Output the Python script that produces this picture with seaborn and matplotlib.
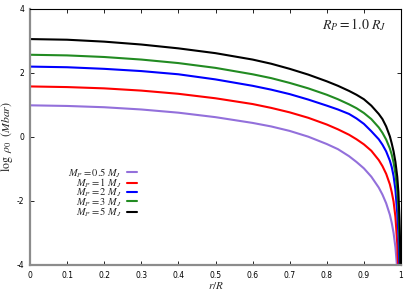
import numpy as np
import pandas as pd
import seaborn as sns
import matplotlib
matplotlib.use("Agg")
import matplotlib.pyplot as plt

# r/R sample points
r_grid = [0.0, 0.1, 0.2, 0.3, 0.4, 0.5, 0.6, 0.65, 0.7, 0.75, 0.8, 0.83,
          0.86, 0.88, 0.9, 0.92, 0.94, 0.95, 0.96, 0.97, 0.975, 0.98,
          0.985, 0.99, 0.993, 0.996, 0.998, 1.0]

# log rho_0 for each planet mass (values below -4 are off the plot)
rho_05 = [0.99, 0.97, 0.93, 0.86, 0.76, 0.62, 0.44, 0.33, 0.19, 0.01, -0.22,
          -0.38, -0.60, -0.78, -0.98, -1.24, -1.58, -1.80, -2.07, -2.43,
          -2.68, -3.00, -3.45, -4.15, -4.80, -5.40, -5.70, -6.0]
rho_1 = [1.58, 1.56, 1.52, 1.45, 1.35, 1.21, 1.03, 0.91, 0.77, 0.60, 0.39,
         0.24, 0.07, -0.07, -0.23, -0.43, -0.72, -0.91, -1.15, -1.48,
         -1.72, -2.02, -2.50, -3.35, -4.20, -4.90, -5.50, -6.0]
rho_2 = [2.20, 2.18, 2.13, 2.06, 1.96, 1.80, 1.60, 1.48, 1.34, 1.17, 0.98,
         0.86, 0.72, 0.58, 0.41, 0.18, -0.07, -0.24, -0.45, -0.74,
         -0.94, -1.22, -1.65, -2.40, -3.05, -4.10, -4.90, -6.0]
rho_3 = [2.57, 2.55, 2.50, 2.42, 2.31, 2.16, 1.96, 1.84, 1.69, 1.52, 1.32,
         1.18, 1.02, 0.90, 0.75, 0.56, 0.30, 0.13, -0.08, -0.36,
         -0.55, -0.80, -1.15, -1.70, -2.25, -3.20, -4.20, -6.0]
rho_5 = [3.06, 3.04, 2.98, 2.89, 2.77, 2.62, 2.42, 2.29, 2.13, 1.95, 1.74,
         1.60, 1.44, 1.32, 1.18, 0.98, 0.72, 0.56, 0.33, 0.02,
         -0.20, -0.45, -0.78, -1.25, -1.72, -2.60, -3.50, -6.0]

labels = [r"$M_P = 0.5\ M_J$", r"$M_P = 1\ M_J$", r"$M_P = 2\ M_J$",
          r"$M_P = 3\ M_J$", r"$M_P = 5\ M_J$"]
colors = ["#9370db", "#ff0000", "#0000ff", "#228b22", "#000000"]
series = [rho_05, rho_1, rho_2, rho_3, rho_5]

sns.set_style("ticks")
plt.rcParams["mathtext.fontset"] = "stix"
plt.rcParams["font.family"] = ["DejaVu Sans"]

fig = plt.figure(figsize=(4.15, 2.91), dpi=100)
ax = fig.add_axes([30 / 415, 26 / 291, 371 / 415, 256 / 291])

for vals, lab, col in zip(series, labels, colors):
    df = pd.DataFrame({"r": r_grid, "rho": vals})
    sns.lineplot(data=df, x="r", y="rho", color=col, lw=1.5, label=lab,
                 ax=ax, sort=False)

ax.set_xlim(0, 1)
ax.set_ylim(-4, 4)
ax.set_xticks(np.arange(0, 1.01, 0.1))
ax.set_xticklabels(["0", "0.1", "0.2", "0.3", "0.4", "0.5", "0.6", "0.7",
                    "0.8", "0.9", "1"])
ax.set_yticks([-4, -2, 0, 2, 4])
ax.set_yticklabels(["-4", "-2", "0", "2", "4"])
ax.tick_params(direction="in", length=3, width=0.6, labelsize=5.5,
               top=True, right=True, pad=4, colors="black")

for s in ["left", "bottom"]:
    ax.spines[s].set_color("#8c8c8c")
    ax.spines[s].set_linewidth(1.6)
for s in ["top", "right"]:
    ax.spines[s].set_color("black")
    ax.spines[s].set_linewidth(0.8)

ax.set_xlabel(r"$r/R$", fontsize=8, labelpad=0)
ax.set_ylabel(r"$\log\ \rho_0\ \ (Mbar)$", fontsize=8.5, labelpad=1)

ax.text(0.96, 0.94, r"$R_P = 1.0\ R_J$", transform=ax.transAxes,
        ha="right", va="center", fontsize=10)

leg = ax.legend(loc="center right", bbox_to_anchor=(137 / 415, 1 - 192.5 / 291),
                bbox_transform=fig.transFigure, frameon=False, fontsize=7.5,
                markerfirst=False, handlelength=1.0, handletextpad=0.5,
                labelspacing=-0.3, borderpad=0, borderaxespad=0)
for t in leg.get_texts():
    t.set_ha("right")

fig.savefig("out.png", dpi=100)
